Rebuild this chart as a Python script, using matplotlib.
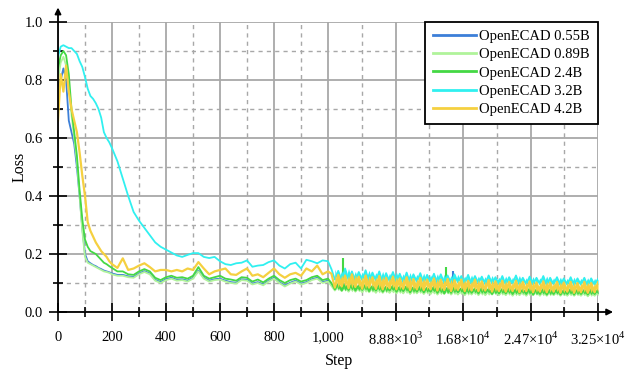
import numpy as np
import matplotlib
matplotlib.use("Agg")
import matplotlib.pyplot as plt

plt.rcParams["font.family"] = ["Liberation Serif", "DejaVu Serif"]
plt.rcParams["mathtext.fontset"] = "custom"
plt.rcParams["mathtext.rm"] = "Liberation Serif"

# ---- data ----
# steps up to 1,000 (every 10 up to 200, then every 20)
steps_left = np.concatenate([np.arange(0, 200, 10), np.arange(200, 1001, 20)])
# long tail after 1,000 (logged about every 400 steps)
steps_right = np.linspace(1400, 32520, 79)

loss_055_left = [0.78, 0.80, 0.84, 0.80, 0.66, 0.62, 0.58, 0.50, 0.40, 0.29,
                 0.20, 0.175, 0.168, 0.162, 0.158, 0.152, 0.148, 0.143, 0.14, 0.137,
                 0.133, 0.128, 0.128, 0.123, 0.121, 0.133, 0.141, 0.133, 0.111, 0.103,
                 0.113, 0.118, 0.111, 0.113, 0.108, 0.118, 0.143, 0.118, 0.108, 0.113,
                 0.115, 0.108, 0.103, 0.101, 0.113, 0.111, 0.098, 0.103, 0.095, 0.108,
                 0.118, 0.103, 0.091, 0.101, 0.108, 0.098, 0.103, 0.113, 0.118, 0.103,
                 0.108]
loss_089_left = [0.80, 0.86, 0.88, 0.85, 0.78, 0.68, 0.60, 0.52, 0.40, 0.28,
                 0.19, 0.17, 0.165, 0.16, 0.155, 0.15, 0.145, 0.14, 0.138, 0.135,
                 0.13, 0.125, 0.125, 0.12, 0.118, 0.13, 0.138, 0.13, 0.108, 0.10,
                 0.11, 0.115, 0.108, 0.11, 0.105, 0.115, 0.14, 0.115, 0.105, 0.11,
                 0.112, 0.105, 0.10, 0.098, 0.11, 0.108, 0.095, 0.10, 0.092, 0.105,
                 0.115, 0.10, 0.088, 0.098, 0.105, 0.095, 0.10, 0.11, 0.115, 0.10,
                 0.105]
loss_24_left = [0.84, 0.885, 0.90, 0.885, 0.82, 0.70, 0.62, 0.54, 0.42, 0.32,
                0.25, 0.225, 0.21, 0.205, 0.20, 0.19, 0.18, 0.17, 0.165, 0.158,
                0.152, 0.14, 0.14, 0.13, 0.128, 0.14, 0.148, 0.14, 0.118, 0.11,
                0.12, 0.125, 0.118, 0.12, 0.115, 0.125, 0.155, 0.125, 0.115, 0.12,
                0.125, 0.115, 0.112, 0.108, 0.12, 0.118, 0.105, 0.112, 0.102, 0.115,
                0.125, 0.11, 0.10, 0.11, 0.115, 0.105, 0.11, 0.12, 0.125, 0.11,
                0.115]
loss_32_left = [0.88, 0.915, 0.92, 0.915, 0.91, 0.91, 0.90, 0.89, 0.865, 0.845,
                0.81, 0.77, 0.745, 0.735, 0.72, 0.70, 0.67, 0.62, 0.60, 0.585,
                0.565, 0.52, 0.46, 0.40, 0.345, 0.315, 0.29, 0.265, 0.24, 0.225,
                0.215, 0.205, 0.195, 0.19, 0.197, 0.203, 0.203, 0.19, 0.186, 0.19,
                0.175, 0.165, 0.162, 0.168, 0.17, 0.178, 0.156, 0.16, 0.162, 0.172,
                0.178, 0.16, 0.15, 0.165, 0.17, 0.15, 0.18, 0.175, 0.168, 0.178,
                0.175]
loss_42_left = [0.66, 0.82, 0.76, 0.85, 0.76, 0.70, 0.66, 0.62, 0.55, 0.47,
                0.40, 0.31, 0.28, 0.26, 0.24, 0.225, 0.21, 0.20, 0.19, 0.175,
                0.165, 0.152, 0.185, 0.145, 0.15, 0.16, 0.168, 0.155, 0.14, 0.145,
                0.145, 0.14, 0.145, 0.14, 0.15, 0.145, 0.172, 0.15, 0.13, 0.14,
                0.145, 0.15, 0.13, 0.128, 0.14, 0.15, 0.125, 0.13, 0.12, 0.135,
                0.15, 0.13, 0.118, 0.13, 0.135, 0.125, 0.15, 0.14, 0.16, 0.13,
                0.14]

loss_055_right = [0.096, 0.080, 0.094, 0.078, 0.092, 0.078, 0.094, 0.076, 0.090, 0.076,
                  0.092, 0.074, 0.088, 0.076, 0.090, 0.072, 0.086, 0.074, 0.088, 0.072,
                  0.086, 0.072, 0.088, 0.070, 0.084, 0.072, 0.086, 0.070, 0.082, 0.070,
                  0.086, 0.068, 0.082, 0.070, 0.084, 0.068, 0.082, 0.068, 0.080, 0.066,
                  0.082, 0.068, 0.080, 0.066, 0.080, 0.066, 0.078, 0.066, 0.080, 0.064,
                  0.078, 0.066, 0.080, 0.064, 0.078, 0.064, 0.076, 0.064, 0.078, 0.062,
                  0.076, 0.064, 0.078, 0.062, 0.076, 0.064, 0.076, 0.062, 0.074, 0.062,
                  0.076, 0.062, 0.074, 0.062, 0.076, 0.060, 0.074, 0.062, 0.074]
loss_089_right = [0.090, 0.074, 0.088, 0.072, 0.086, 0.070, 0.088, 0.070, 0.084, 0.068,
                  0.086, 0.068, 0.082, 0.066, 0.084, 0.066, 0.080, 0.066, 0.082, 0.064,
                  0.080, 0.064, 0.082, 0.062, 0.078, 0.064, 0.080, 0.062, 0.076, 0.062,
                  0.078, 0.060, 0.076, 0.062, 0.078, 0.060, 0.074, 0.060, 0.076, 0.058,
                  0.074, 0.060, 0.076, 0.058, 0.074, 0.058, 0.072, 0.060, 0.074, 0.058,
                  0.072, 0.058, 0.074, 0.056, 0.072, 0.058, 0.070, 0.056, 0.072, 0.058,
                  0.070, 0.056, 0.072, 0.056, 0.070, 0.058, 0.070, 0.056, 0.068, 0.056,
                  0.070, 0.056, 0.068, 0.056, 0.070, 0.054, 0.068, 0.056, 0.068]
loss_24_right = [0.100, 0.078, 0.096, 0.074, 0.094, 0.076, 0.098, 0.074, 0.092, 0.076,
                 0.096, 0.072, 0.090, 0.074, 0.094, 0.070, 0.088, 0.074, 0.092, 0.070,
                 0.088, 0.072, 0.090, 0.068, 0.086, 0.070, 0.090, 0.068, 0.084, 0.070,
                 0.088, 0.066, 0.086, 0.064, 0.084, 0.066, 0.088, 0.068, 0.082, 0.064,
                 0.086, 0.066, 0.082, 0.064, 0.084, 0.066, 0.080, 0.062, 0.084, 0.064,
                 0.080, 0.064, 0.082, 0.062, 0.080, 0.064, 0.078, 0.062, 0.082, 0.060,
                 0.078, 0.062, 0.080, 0.060, 0.078, 0.062, 0.080, 0.060, 0.076, 0.062,
                 0.080, 0.060, 0.078, 0.062, 0.076, 0.060, 0.078, 0.062, 0.078]
loss_32_right = [0.148, 0.112, 0.142, 0.108, 0.150, 0.110, 0.140, 0.106, 0.138, 0.110,
                 0.144, 0.104, 0.136, 0.108, 0.140, 0.102, 0.134, 0.106, 0.138, 0.104,
                 0.132, 0.102, 0.136, 0.100, 0.130, 0.104, 0.134, 0.100, 0.128, 0.102,
                 0.132, 0.098, 0.130, 0.100, 0.126, 0.098, 0.130, 0.102, 0.124, 0.098,
                 0.128, 0.096, 0.124, 0.100, 0.122, 0.096, 0.126, 0.098, 0.120, 0.096,
                 0.124, 0.094, 0.120, 0.098, 0.126, 0.094, 0.118, 0.096, 0.122, 0.094,
                 0.118, 0.096, 0.124, 0.092, 0.118, 0.096, 0.120, 0.092, 0.116, 0.094,
                 0.120, 0.092, 0.116, 0.094, 0.118, 0.090, 0.116, 0.094, 0.114]
loss_42_right = [0.132, 0.084, 0.128, 0.088, 0.126, 0.082, 0.130, 0.086, 0.122, 0.080,
                 0.126, 0.084, 0.120, 0.080, 0.124, 0.078, 0.118, 0.082, 0.122, 0.078,
                 0.116, 0.080, 0.120, 0.076, 0.114, 0.078, 0.118, 0.076, 0.112, 0.078,
                 0.116, 0.074, 0.112, 0.076, 0.114, 0.072, 0.110, 0.076, 0.112, 0.072,
                 0.108, 0.074, 0.112, 0.072, 0.106, 0.074, 0.110, 0.070, 0.106, 0.072,
                 0.108, 0.070, 0.104, 0.072, 0.108, 0.068, 0.104, 0.072, 0.106, 0.068,
                 0.102, 0.070, 0.106, 0.068, 0.102, 0.070, 0.104, 0.066, 0.102, 0.070,
                 0.104, 0.066, 0.100, 0.068, 0.104, 0.066, 0.100, 0.068, 0.102]

# isolated loss spikes in the tail: (step, peak)
spikes_055 = [(15590, 0.140)]
spikes_24 = [(2730, 0.186), (14770, 0.155)]

labels = ["OpenECAD 0.55B", "OpenECAD 0.89B", "OpenECAD 2.4B",
          "OpenECAD 3.2B", "OpenECAD 4.2B"]
colors = ["#3c7fd8", "#b0f39a", "#44d844", "#30f0f0", "#f5d040"]
widths = [1.3, 1.3, 1.3, 1.3, 1.6]
series = [(loss_055_left, loss_055_right, spikes_055),
          (loss_089_left, loss_089_right, []),
          (loss_24_left, loss_24_right, spikes_24),
          (loss_32_left, loss_32_right, []),
          (loss_42_left, loss_42_right, [])]

major_ticks = [0, 200, 400, 600, 800, 1000, 8880, 16760, 24640, 32520]
tick_labels = ["0", "200", "400", "600", "800", "1,000",
               r"8.88×10$^{3}$", r"1.68×10$^{4}$", r"2.47×10$^{4}$", r"3.25×10$^{4}$"]
minor_ticks = [100, 300, 500, 700, 900, 4940, 12820, 20700, 28580]

# piecewise x axis: linear to 1,000 then compressed
BREAK = 1000.0
RATIO = 250.0 / 7880.0


def fwd(x):
    x = np.asarray(x, dtype=float)
    return np.where(x <= BREAK, x, BREAK + (x - BREAK) * RATIO)


def inv(u):
    u = np.asarray(u, dtype=float)
    return np.where(u <= BREAK, u, BREAK + (u - BREAK) / RATIO)


fig = plt.figure(figsize=(6.4, 3.74), dpi=100)
ax = fig.add_axes([58 / 640, 62 / 374, 540 / 640, 290 / 374])
ax.set_xscale("function", functions=(fwd, inv))

for (left, right, spikes), color, lw, label in zip(series, colors, widths, labels):
    x = np.concatenate([steps_left, steps_right])
    y = np.concatenate([left, right])
    ax.plot(x, y, color=color, lw=lw, label=label, zorder=3)
    # the tail is very noisy: fill between consecutive readings so it reads as a band
    r = np.asarray(right)
    ax.fill_between(steps_right[1:], r[:-1], r[1:], color=color, lw=0, zorder=3)
    for sx, sy in spikes:
        ax.vlines(sx, 0.09, sy, color=color, lw=1.5, zorder=3)

ax.set_xlim(0, 32520)
ax.set_ylim(0, 1.0)
ax.set_xticks(major_ticks)
ax.set_xticklabels(tick_labels)
ax.set_xticks(minor_ticks, minor=True)
ax.set_yticks([0.0, 0.2, 0.4, 0.6, 0.8, 1.0])
ax.set_yticklabels(["0.0", "0.2", "0.4", "0.6", "0.8", "1.0"])
ax.set_yticks([0.1, 0.3, 0.5, 0.7, 0.9], minor=True)

ax.grid(which="major", color="#a8a8a8", lw=1.3, ls="-", zorder=0)
ax.grid(which="minor", color="#a8a8a8", lw=1.0, ls=(0, (3, 3)), zorder=0)
ax.set_axisbelow(True)

ax.tick_params(which="major", direction="inout", length=13.5, width=1.2,
               color="black", labelsize=10.5, pad=4)
ax.tick_params(which="minor", direction="inout", length=6.5, width=1.2, color="black")
ax.tick_params(axis="x", which="major", pad=7)

for side in ["top", "right", "left", "bottom"]:
    ax.spines[side].set_visible(False)

# axis lines with arrow heads, extending past the plotting area
ax.annotate("", xy=(1.028, 0), xytext=(0, 0), xycoords="axes fraction",
            arrowprops=dict(arrowstyle="-|>", color="black", lw=1.3,
                            mutation_scale=9, shrinkA=0, shrinkB=0),
            annotation_clip=False)
ax.annotate("", xy=(0, 1.05), xytext=(0, 0), xycoords="axes fraction",
            arrowprops=dict(arrowstyle="-|>", color="black", lw=1.3,
                            mutation_scale=9, shrinkA=0, shrinkB=0),
            annotation_clip=False)

ax.set_ylabel("Loss", fontsize=11.5)
ax.yaxis.set_label_coords(-0.056, 0.5)
ax.set_xlabel("Step", fontsize=11.5)
ax.xaxis.set_label_coords(0.52, -0.14)

leg = ax.legend(loc="upper right", fontsize=10.5, frameon=True, fancybox=False,
                borderaxespad=0.0, handlelength=2.95, labelspacing=0.34,
                handletextpad=0.2, borderpad=0.55)
leg.get_frame().set_edgecolor("black")
leg.get_frame().set_linewidth(1.3)
leg.get_frame().set_alpha(1.0)
for line in leg.get_lines():
    line.set_linewidth(2.0)

fig.savefig("out.png", dpi=100)
plt.close(fig)
